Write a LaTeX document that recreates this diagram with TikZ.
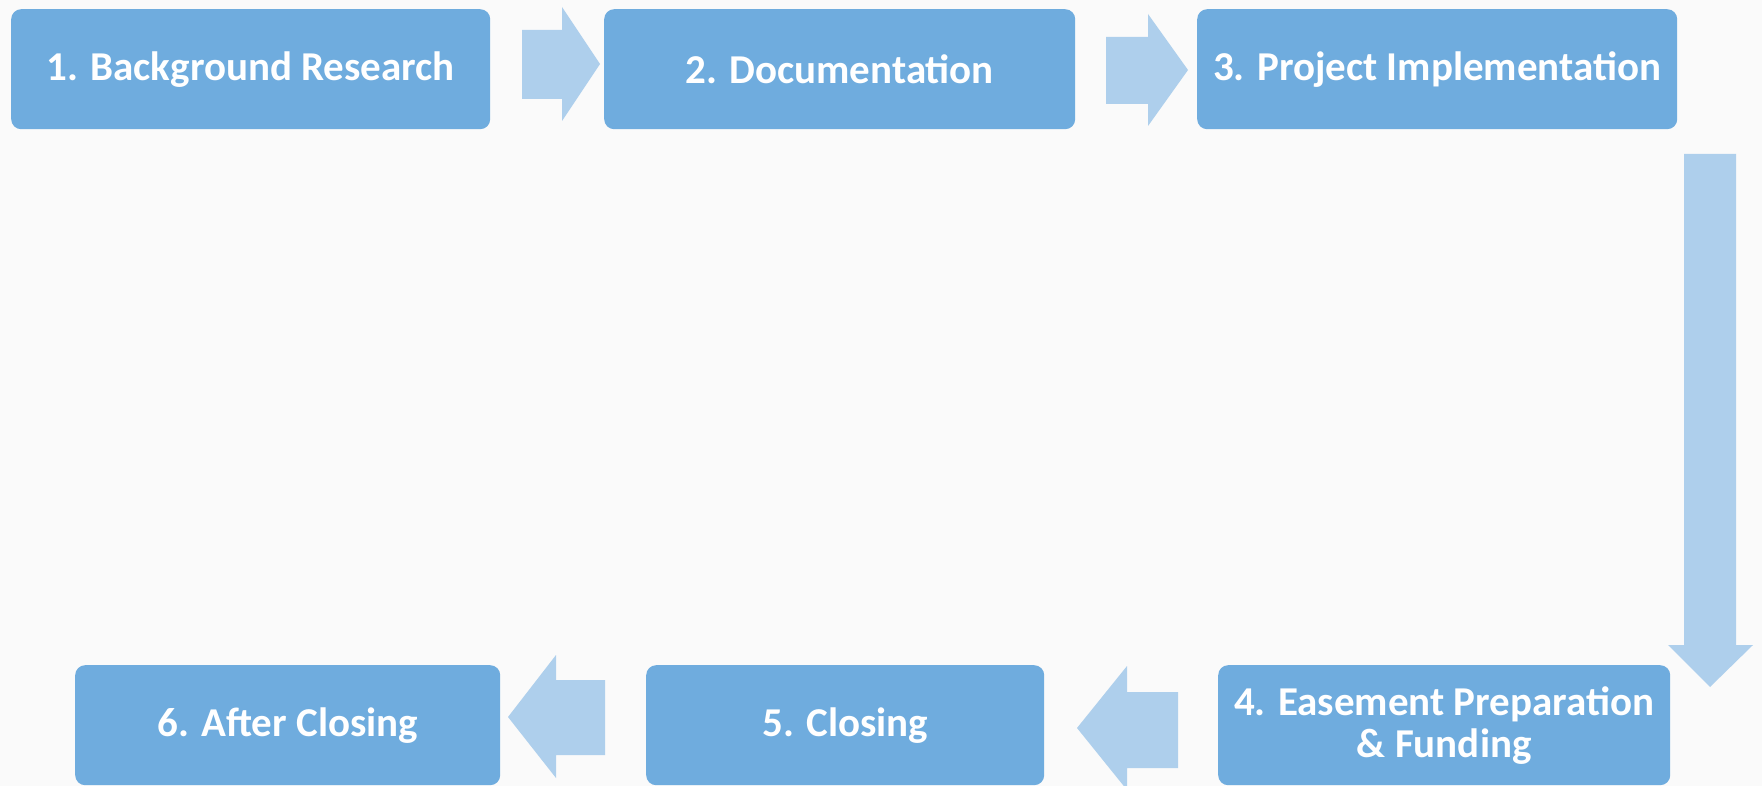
\documentclass[tikz,border=0pt]{standalone}
\usepackage{fontspec}
\setmainfont{Carlito}
\usetikzlibrary{positioning}
\definecolor{stepblue}{RGB}{111,172,222}
\definecolor{arrowblue}{RGB}{174,207,236}
\definecolor{paper}{RGB}{250,250,250}
\tikzset{
    stepbox/.style={fill=stepblue, rounded corners=10pt, text=white, align=center, inner sep=0pt,
        anchor=north west, minimum height=120pt, font=\fontsize{41}{42}\selectfont\bfseries},
    blockarrow/.style={fill=arrowblue}
}
\begin{document}
\begin{tikzpicture}[x=1pt, y=-1pt]
        \fill[paper] (0,0) rectangle (1762,786);
        \useasboundingbox (0,0) rectangle (1762,786);

        \node[stepbox, minimum width=479pt] (research) at (11,9) {1. Background Research};
        \node[stepbox, minimum width=471pt] (documentation) at (604,9) {2. Documentation};
        \node[stepbox, minimum width=480pt] (implementation) at (1197,9) {3. Project Implementation};
        \node[stepbox, minimum width=452pt] (easement) at (1218,665) {4. Easement Preparation\\ \& Funding};
        \node[stepbox, minimum width=398pt] (closing) at (646,665) {5. Closing};
        \node[stepbox, minimum width=425pt] (after) at (75,665) {6. After Closing};

        % block arrows between the steps
        \fill[blockarrow] (522,30) -- (562,30) -- (562,7) -- (600,64) -- (562,121) -- (562,99) -- (522,99) -- cycle;
        \fill[blockarrow] (1106,37) -- (1148,37) -- (1148,14) -- (1188,70) -- (1148,126) -- (1148,104) -- (1106,104) -- cycle;
        \fill[blockarrow] (1684,154) -- (1736,154) -- (1736,645) -- (1753,645) -- (1710,687) -- (1668,645) -- (1684,645) -- cycle;
        \fill[blockarrow] (1178,692) -- (1127,692) -- (1127,666) -- (1077,728) -- (1127,790) -- (1127,768) -- (1178,768) -- cycle;
        \fill[blockarrow] (605,680) -- (556,680) -- (556,655) -- (508,717) -- (556,778) -- (556,755) -- (605,755) -- cycle;
    \end{tikzpicture}
\end{document}
